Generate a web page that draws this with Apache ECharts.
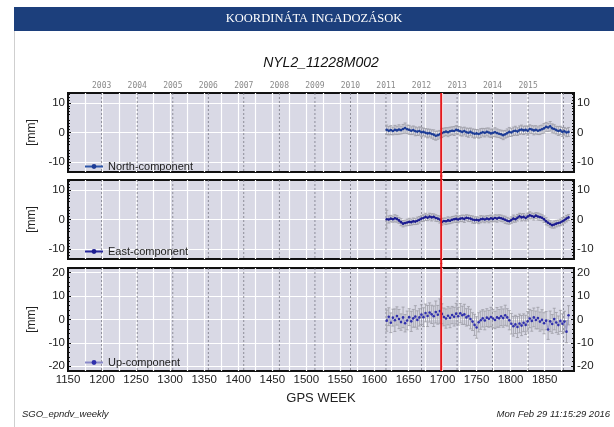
<!DOCTYPE html>
<html><head><meta charset="utf-8">
<script src="https://cdn.jsdelivr.net/npm/echarts@6/dist/echarts.min.js"></script>
<style>html,body{margin:0;padding:0;background:#fff}#c{width:614px;height:427px}</style>
</head><body><div id="c"></div>
<script>
const pageTitle = 'KOORDINÁTA INGADOZÁSOK';
const chartTitle = 'NYL2_11228M002';
const footLeft = 'SGO_epndv_weekly';
const footRight = 'Mon Feb 29 11:15:29 2016';
const seriesNames = ['North-component', 'East-component', 'Up-component'];
const xMin = 1150, xMax = 1893;
const redWeek = 1698;
const yearLabels = ['2003','2004','2005','2006','2007','2008','2009','2010','2011','2012','2013','2014','2015'];
const yearWeeks = [1199.4,1251.6,1303.9,1356.0,1408.1,1460.3,1512.6,1564.7,1616.9,1669.0,1721.3,1773.4,1825.6,1877.7];
const ticksNE = [-10, 0, 10];
const ticksU = [-20, -10, 0, 10, 20];

const weeks = [1618,1621,1624,1627,1630,1633,1636,1639,1642,1645,
1648,1651,1654,1657,1660,1663,1666,1669,1672,1675,
1678,1681,1684,1687,1690,1693,1696,1699,1702,1705,
1708,1711,1714,1717,1720,1723,1726,1729,1732,1735,
1738,1741,1744,1747,1750,1753,1756,1759,1762,1765,
1768,1771,1774,1777,1780,1783,1786,1789,1792,1795,
1798,1801,1804,1807,1810,1813,1816,1819,1822,1825,
1828,1831,1834,1837,1840,1843,1846,1849,1852,1855,
1858,1861,1864,1867,1870,1873,1876,1879,1882,1885];

const north = [0.9,0.6,0.8,0.5,0.9,0.7,1.0,0.8,1.2,1.5,
1.1,0.9,0.6,0.8,0.4,0.3,0.5,0.1,0.2,-0.1,
-0.3,-0.2,-0.5,-0.7,-1.1,-0.9,-0.6,-0.2,0.1,0.3,
0.1,0.4,0.6,0.5,0.9,0.7,0.4,0.2,0.5,0.1,
-0.1,0.2,-0.2,-0.4,-0.3,-0.5,-0.2,0.1,-0.1,0.2,
0.0,-0.3,-0.1,0.1,-0.2,-0.4,-0.6,-0.9,-0.6,-0.2,
0.2,0.0,0.4,0.6,0.3,0.8,1.0,0.7,0.9,0.6,
1.2,1.0,0.7,0.9,0.6,0.8,1.1,1.4,1.9,1.7,
2.1,1.4,1.2,0.8,0.5,0.7,0.2,0.4,0.0,0.2];
const northErr = [1.6,1.4,1.5,1.3,1.5,1.4,1.6,1.3,1.5,1.7,
1.4,1.5,1.3,1.4,1.5,1.3,1.4,1.5,1.3,1.4,
1.5,1.3,1.4,1.6,1.5,1.4,1.3,1.5,1.4,1.3,
1.5,1.4,1.3,1.5,1.4,1.3,1.5,1.4,1.3,1.4,
1.5,1.3,1.4,1.5,1.3,1.4,1.5,1.3,1.4,1.3,
1.5,1.4,1.3,1.5,1.4,1.3,1.4,1.5,1.3,1.4,
1.5,1.3,1.4,1.5,1.3,1.4,1.5,1.4,1.3,1.5,
1.4,1.3,1.5,1.4,1.3,1.5,1.4,1.6,1.5,1.4,
1.6,1.5,1.4,1.3,1.5,1.4,1.5,1.3,1.4,1.5];

const east = [0.1,0.0,0.3,0.1,0.4,0.2,-0.3,-0.9,-1.4,-1.2,
-1.0,-0.8,-0.9,-0.6,-0.7,-0.4,-0.1,0.3,0.5,0.9,
0.6,1.0,0.7,0.9,0.5,0.3,0.0,-0.8,-0.5,-0.6,
-0.3,-0.4,-0.1,0.1,0.2,0.0,0.3,0.4,0.2,0.6,
0.4,0.3,0.0,-0.2,-0.1,-0.3,0.1,0.2,0.0,0.3,
0.1,0.4,0.2,0.5,0.3,0.6,0.4,0.2,-0.1,-0.4,
-0.6,-0.2,0.3,0.1,0.6,1.1,0.7,0.9,0.5,1.0,
1.4,1.2,0.9,1.3,1.0,0.8,0.6,0.1,-0.6,-1.1,
-1.5,-1.9,-1.7,-1.4,-1.2,-1.0,-0.6,-0.2,0.3,0.7];
const eastErr = [3.0,1.2,1.1,1.0,1.2,1.1,1.0,1.2,1.1,1.0,
1.1,1.2,1.0,1.1,1.0,1.2,1.1,1.0,1.1,1.2,
1.0,1.1,1.2,1.0,1.1,1.0,1.2,1.1,1.0,1.1,
1.2,1.0,1.1,1.0,1.2,1.1,1.0,1.1,1.2,1.0,
1.1,1.0,1.2,1.1,1.0,1.1,1.2,1.0,1.1,1.0,
1.2,1.1,1.0,1.1,1.2,1.0,1.1,1.0,1.2,1.1,
1.0,1.1,1.2,1.0,1.1,1.0,1.2,1.1,1.0,1.1,
1.2,1.0,1.1,1.0,1.2,1.1,1.0,1.1,1.2,1.0,
1.1,1.0,1.2,1.1,1.0,1.1,1.2,1.0,1.1,1.0];

const up = [-0.5,1.2,-1.4,0.8,-0.3,1.5,0.2,-1.1,0.9,-1.6,
-0.4,1.0,-0.8,0.5,1.3,-0.2,0.9,2.1,1.0,2.8,
1.5,3.0,2.2,1.4,3.2,2.0,3.6,2.4,1.1,0.4,
1.6,0.7,1.9,1.2,2.5,1.4,2.7,1.8,2.2,0.9,
1.5,0.2,-0.9,-2.3,-3.4,-1.2,-0.3,0.5,-0.4,0.8,
0.3,1.1,0.4,-0.2,0.9,0.5,1.4,0.6,1.8,0.9,
-0.3,-1.8,-2.9,-2.1,-3.2,-1.7,-2.6,-1.4,-2.3,-0.8,
0.4,-0.6,0.9,-0.2,0.6,-0.9,-0.1,-1.6,-0.5,-4.3,
-0.8,-1.9,0.2,-1.3,-2.4,-0.6,-1.8,-0.9,-5.2,1.8];
const upErr = [4.5,3.8,4.2,3.6,4.8,3.9,4.1,3.5,4.4,3.7,
4.0,3.6,4.3,3.8,4.6,3.9,3.7,4.2,4.0,3.8,
4.5,4.1,3.9,4.4,4.7,4.0,5.2,4.3,3.8,4.1,
3.9,4.2,3.7,4.0,4.4,3.8,4.1,3.9,4.3,3.7,
4.0,4.2,3.8,4.5,4.6,4.1,3.9,3.7,4.0,3.8,
3.6,4.1,3.9,3.7,4.2,3.8,4.0,3.9,4.3,3.7,
4.1,4.4,4.2,3.9,4.5,4.0,4.3,3.8,4.1,4.2,
3.9,4.4,4.0,3.8,4.6,4.1,4.3,4.5,3.9,4.2,
4.4,4.0,4.6,4.3,3.9,4.5,4.2,4.4,4.7,4.1];

const comps = [
  {vals: north, err: northErr, min: -13.3, max: 13.3, ticks: ticksNE, line: '#2d55a8', dot: '#1d3c96', lw: 1.3},
  {vals: east, err: eastErr, min: -13.3, max: 13.3, ticks: ticksNE, line: '#26269c', dot: '#1c1c90', lw: 1.3},
  {vals: up, err: upErr, min: -22, max: 22, ticks: ticksU, line: '#8a8ac8', dot: '#3030ac', lw: 0.8}
];
const grids = [
  {left: 68, right: 40, top: 93, height: 79},
  {left: 68, right: 40, top: 180, height: 79},
  {left: 68, right: 40, top: 268, height: 103}
];
const ext = [[0, 5], [5, 5], [5, 0]];
const font = 'Liberation Sans, Arial, sans-serif';

const chart = echarts.init(document.getElementById('c'), null, {renderer: 'canvas'});

const xAxis = [], yAxis = [], series = [], legend = [];
const legendTops = [156, 241, 352];
grids.forEach((g, i) => {
  xAxis.push({
    type: 'value', gridIndex: i, min: xMin, max: xMax, interval: 25,
    axisLine: {show: false}, axisTick: {show: false},
    axisLabel: {show: i === 2, margin: 3, fontSize: 11.5, color: '#222', fontFamily: font,
      formatter: v => (v % 50 === 0 ? String(v) : '')},
    splitLine: {show: true, showMinLine: false, showMaxLine: false, lineStyle: {color: '#ffffff', width: 1.2}},
    name: i === 2 ? 'GPS WEEK' : '', nameLocation: 'middle', nameGap: 21,
    nameTextStyle: {fontSize: 13, color: '#222', fontFamily: font}
  });
  const c = comps[i];
  ['left', 'right'].forEach(pos => {
    yAxis.push({
      type: 'value', gridIndex: i, position: pos, min: c.min, max: c.max,
      name: pos === 'left' ? '[mm]' : '', nameLocation: 'middle', nameGap: 25,
      nameTextStyle: {fontSize: 12, color: '#222', fontFamily: font},
      axisLine: {show: true, lineStyle: {color: '#111', width: 2}},
      axisTick: {show: true, inside: true, length: 3, customValues: c.ticks, lineStyle: {color: '#111'}},
      minorTick: {show: true, splitNumber: 5, length: 2, lineStyle: {color: '#111'}},
      axisLabel: {customValues: c.ticks, margin: 3, fontSize: 11.5, color: '#222', fontFamily: font},
      splitLine: {show: pos === 'left', lineStyle: {color: '#ffffff', width: 1.2}}
    });
  });
  const yL = i * 2;
  // year dashed lines
  series.push({
    type: 'custom', xAxisIndex: i, yAxisIndex: yL, silent: true, clip: true, z: 1,
    data: yearWeeks.map(w => [w, 0]), encode: {x: 0, y: 1},
    renderItem: (params, api) => {
      const cs = params.coordSys;
      const x = api.coord([api.value(0), 0])[0];
      return {type: 'line', shape: {x1: x, y1: cs.y, x2: x, y2: cs.y + cs.height},
        style: {stroke: '#7a7a86', lineWidth: 0.8, lineDash: [2, 2]}};
    }
  });
  // error bars
  series.push({
    type: 'custom', xAxisIndex: i, yAxisIndex: yL, silent: true, clip: true, z: 2,
    data: weeks.map((w, k) => [w, c.vals[k], c.err[k]]), encode: {x: 0, y: 1},
    renderItem: (params, api) => {
      const x = api.value(0), y = api.value(1), e = api.value(2);
      const t = api.coord([x, y + e]), b = api.coord([x, y - e]);
      const st = {stroke: '#9c9ca4', lineWidth: 0.8};
      return {type: 'group', children: [
        {type: 'line', shape: {x1: t[0], y1: t[1], x2: b[0], y2: b[1]}, style: st},
        {type: 'line', shape: {x1: t[0] - 1.5, y1: t[1], x2: t[0] + 1.5, y2: t[1]}, style: st},
        {type: 'line', shape: {x1: b[0] - 1.5, y1: b[1], x2: b[0] + 1.5, y2: b[1]}, style: st}
      ]};
    }
  });
  // data line
  series.push({
    type: 'line', name: seriesNames[i], xAxisIndex: i, yAxisIndex: yL, z: 3,
    data: weeks.map((w, k) => [w, c.vals[k]]),
    symbol: 'circle', symbolSize: 2.6, showSymbol: true,
    lineStyle: {color: c.line, width: c.lw}, itemStyle: {color: c.dot},
    emphasis: {disabled: true}, animation: false
  });
  // red event line
  series.push({
    type: 'custom', xAxisIndex: i, yAxisIndex: yL, silent: true, clip: false, z: 5,
    data: [[redWeek, 0]], encode: {x: 0, y: 1},
    renderItem: (params, api) => {
      const cs = params.coordSys;
      const x = api.coord([api.value(0), 0])[0];
      return {type: 'line', shape: {x1: x, y1: cs.y - ext[i][0], x2: x, y2: cs.y + cs.height + ext[i][1]},
        style: {stroke: '#e5191c', lineWidth: 2}};
    }
  });
  legend.push({
    data: [seriesNames[i]], left: 79, top: legendTops[i], itemWidth: 18, itemHeight: 6, itemGap: 4,
    textStyle: {fontSize: 11, color: '#222', fontFamily: font}, selectedMode: false
  });
});
// top year axis
xAxis.push({
  type: 'value', gridIndex: 0, position: 'top', min: xMin, max: xMax,
  axisLine: {show: false}, axisTick: {show: false}, splitLine: {show: false},
  axisLabel: {customValues: yearWeeks.slice(0, yearLabels.length), margin: 3, fontSize: 8, color: '#8a8a8a',
    fontFamily: 'DejaVu Sans Mono, monospace',
    formatter: v => { const k = yearWeeks.indexOf(v); return k >= 0 && k < yearLabels.length ? yearLabels[k] : ''; }}
});

chart.setOption({
  animation: false,
  backgroundColor: '#ffffff',
  grid: grids.map(g => Object.assign({show: true, backgroundColor: '#d9d9e5', borderColor: '#111', borderWidth: 2}, g)),
  xAxis, yAxis, series, legend,
  graphic: [
    {type: 'line', shape: {x1: 14.5, y1: 31, x2: 14.5, y2: 427}, style: {stroke: '#cfcfcf', lineWidth: 1}, silent: true},
    {type: 'rect', shape: {x: 14, y: 7, width: 600, height: 24}, style: {fill: '#1c3f7c'}, silent: true},
    {type: 'text', x: 314, y: 19, style: {text: pageTitle, fill: '#ffffff', font: '12.5px "Liberation Serif", serif', align: 'center', verticalAlign: 'middle'}},
    {type: 'text', x: 321, y: 63, style: {text: chartTitle, fill: '#111', font: 'italic 14px "Liberation Sans", Arial, sans-serif', align: 'center', verticalAlign: 'middle'}},
    {type: 'text', x: 22, y: 414, style: {text: footLeft, fill: '#222', font: 'italic 9.5px "Liberation Sans", Arial, sans-serif', align: 'left', verticalAlign: 'middle'}},
    {type: 'text', x: 610, y: 414, style: {text: footRight, fill: '#222', font: 'italic 9.5px "Liberation Sans", Arial, sans-serif', align: 'right', verticalAlign: 'middle'}}
  ]
});
</script></body></html>
